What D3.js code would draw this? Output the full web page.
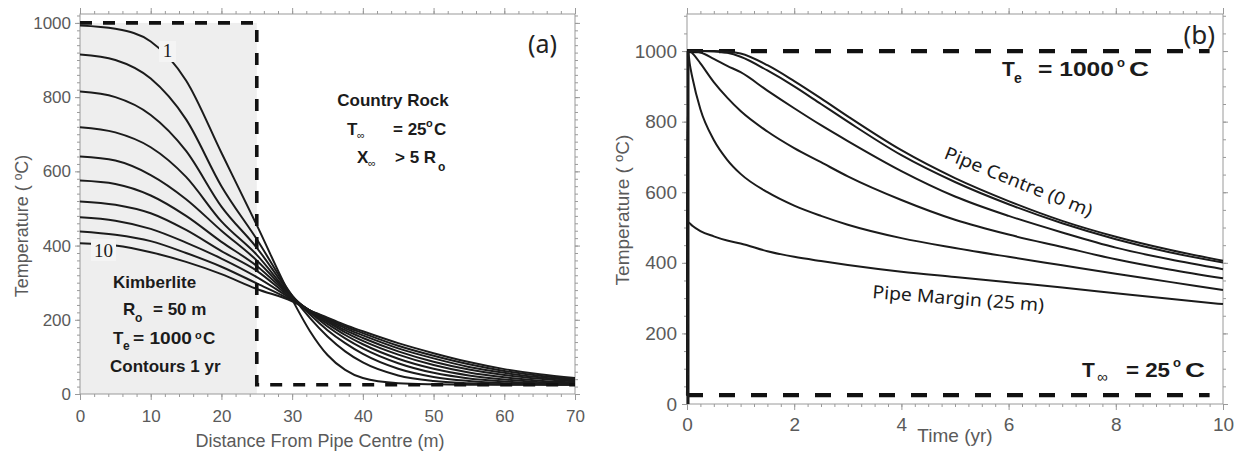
<!DOCTYPE html>
<html><head><meta charset="utf-8">
<script src="https://cdn.jsdelivr.net/npm/d3@7"></script>
<style>body{margin:0;background:#fff} svg{display:block}</style>
</head><body><svg id="c" width="1242" height="453"></svg>
<script>
// ---------- DATA ----------
// Panel (a): temperature profiles vs distance from pipe centre, contours every 1 yr
const distance = [0,5,10,15,20,25,30,32.5,35,37.5,40,45,50,55,60,65,70];
const contourYears = [1,2,3,4,5,6,7,8,9,10];
const contour1  = [993,984,950,845,650,455,255,170,105,65,43,29,26,25,25,25,25];
const contour2  = [915,900,850,740,560,417,265,205,155,115,85,50,35,29,26,25.5,25];
const contour3  = [815,800,752,655,505,394,265,215,172,137,108,68,46,35,29,27,26];
const contour4  = [719,705,665,585,465,375,263,220,182,150,123,83,57,42,34,29,27];
const contour5  = [640,629,590,525,440,360,262,222,189,159,134,95,68,50,39,32,29];
const contour6  = [575,566,535,480,410,345,260,224,194,166,143,106,78,58,45,36,31];
const contour7  = [519,510,487,442,385,332,257,225,198,172,151,115,87,66,51,41,34];
const contour8  = [476,467,445,408,365,315,255,225,201,177,158,123,96,73,57,45,37];
const contour9  = [438,429,412,380,343,298,252,225,204,182,164,130,103,80,62,49,40];
const contour10 = [406,400,382,356,323,283,250,225,206,186,169,137,110,86,67,53,43];
const contours = [contour1,contour2,contour3,contour4,contour5,contour6,contour7,contour8,contour9,contour10];
const emplacementA = [[0,1000],[25,1000],[25,25],[70,25]]; // T_e inside pipe, T_inf outside

// Panel (b): temperature vs time at several distances from the pipe centre
const timeYr   = [0,0.02,0.05,0.1,0.25,0.5,0.75,1,1.5,2,2.5,3,4,5,6,7,8,9,10];
const centre0m = [25,1000,1000,1000,1000,1000,999,993,960,915,866,815,719,640,575,519,474,437,406];
const dist5m   = [25,1000,1000,1000,1000,999,995,984,945,900,850,800,705,629,566,512,467,430,401];
const dist10m  = [25,1000,1000,1000,996,978,958,940,888,838,790,745,660,588,533,486,443,410,382];
const dist15m  = [25,1000,1000,994,965,912,868,830,772,725,685,645,578,522,480,445,410,381,356];
const dist20m  = [25,1000,965,925,835,748,692,652,600,562,533,508,470,442,417,393,369,346,323];
const margin25m= [25,515,512,505,490,475,463,455,433,417,405,394,375,360,345,330,314,298,283];
const seriesB = [centre0m,dist5m,dist10m,dist15m,dist20m,margin25m];
const emplacementT = 1000, countryT = 25;

// tick labels
const ticksAx = [0,10,20,30,40,50,60,70];
const ticksAy = [0,200,400,600,800,1000];
const ticksBx = [0,2,4,6,8,10];
const ticksBy = [0,200,400,600,800,1000];

// ---------- DRAW ----------
const svg = d3.select("#c");
const ink = "#1b1b1b", axisCol = "#9a9a9a", tickCol = "#5a5a5a";
const sans = "'Liberation Sans', Arial, sans-serif";
const myriad = "'Noto Sans', 'Open Sans', sans-serif";

function drawAxes(g, x, y, o) {
  const [x0,x1] = x.range(), [y0,y1] = y.range();
  const style = sel => { sel.select(".domain").remove(); sel.selectAll("line").attr("stroke", axisCol); };
  const lab = sel => sel.selectAll("text").attr("fill", tickCol).style("font-family", sans).style("font-size", o.fs + "px");
  g.append("g").attr("transform", `translate(0,${y0})`)
    .call(d3.axisBottom(x).tickValues(o.xMin).tickSize(3).tickFormat("")).call(style);
  g.append("g").attr("transform", `translate(0,${y0})`)
    .call(d3.axisBottom(x).tickValues(o.xMaj).tickSize(6).tickPadding(o.xPad).tickFormat(d3.format("d"))).call(style).call(lab);
  g.append("g").attr("transform", `translate(0,${y1})`)
    .call(d3.axisTop(x).tickValues(o.xMin).tickSize(3).tickFormat("")).call(style);
  g.append("g").attr("transform", `translate(0,${y1})`)
    .call(d3.axisTop(x).tickValues(o.xMaj).tickSize(6).tickFormat("")).call(style);
  g.append("g").attr("transform", `translate(${x0},0)`)
    .call(d3.axisLeft(y).tickValues(o.yMin).tickSize(3).tickFormat("")).call(style);
  g.append("g").attr("transform", `translate(${x0},0)`)
    .call(d3.axisLeft(y).tickValues(o.yMaj).tickSize(5).tickPadding(o.yPad).tickFormat(d3.format("d"))).call(style).call(lab);
  g.append("g").attr("transform", `translate(${x1},0)`)
    .call(d3.axisRight(y).tickValues(o.yMin).tickSize(3).tickFormat("")).call(style);
  g.append("g").attr("transform", `translate(${x1},0)`)
    .call(d3.axisRight(y).tickValues(o.yMaj).tickSize(5).tickFormat("")).call(style);
  g.append("rect").attr("x", x0).attr("y", y1).attr("width", x1 - x0).attr("height", y0 - y1)
    .attr("fill", "none").attr("stroke", axisCol).attr("stroke-width", 1);
}

function txt(g, x, y, s, o = {}) {
  const t = g.append("text").attr("x", x).attr("y", y).text(s)
    .style("font-family", o.ff || sans).style("font-size", (o.fs || 17) + "px")
    .style("font-weight", o.fw || "bold").attr("fill", o.fill || ink)
    .attr("text-anchor", o.anchor || "start");
  if (o.len) t.attr("textLength", o.len).attr("lengthAdjust", "spacingAndGlyphs");
  if (o.rot !== undefined) t.attr("transform", `rotate(${o.rot},${x},${y})`);
  return t;
}

// ===== Panel (a) =====
const xA = d3.scaleLinear().domain([0,70]).range([80,575]);
const yA = d3.scaleLinear().domain([0,1024]).range([394,14]);
const gA = svg.append("g");
gA.append("defs").append("clipPath").attr("id","clipA").append("rect")
  .attr("x",80).attr("y",14).attr("width",495).attr("height",380);
gA.append("rect").attr("x", xA(0)).attr("y", yA(1000)).attr("width", xA(25) - xA(0))
  .attr("height", yA(0) - yA(1000)).attr("fill", "#eeeeee");
drawAxes(gA, xA, yA, {xMaj: ticksAx, xMin: d3.range(0,71,2), yMaj: ticksAy, yMin: d3.range(0,1025,20), fs: 17, xPad: 10, yPad: 4});

const lineA = d3.line().x((d,i) => xA(distance[i])).y(d => yA(d)).curve(d3.curveMonotoneX);
const cA = gA.append("g").attr("clip-path","url(#clipA)");
contours.forEach(c => cA.append("path").attr("d", lineA(c)).attr("fill","none").attr("stroke", ink).attr("stroke-width", 2));
cA.append("path").attr("d", d3.line().x(d => xA(d[0])).y(d => yA(d[1]))(emplacementA))
  .attr("fill","none").attr("stroke","#111").attr("stroke-width",3.6).attr("stroke-dasharray","12,11");

gA.append("rect").attr("x",159).attr("y",41).attr("width",17).attr("height",21).attr("fill","#f4f4f4");
txt(gA, 167.5, 57, String(contourYears[0]), {ff: "'Liberation Serif', serif", fw: "normal", fs: 19, anchor: "middle"});
gA.append("rect").attr("x",91).attr("y",239).attr("width",25).attr("height",22).attr("fill","#f4f4f4");
txt(gA, 103.5, 257, String(contourYears[9]), {ff: "'Liberation Serif', serif", fw: "normal", fs: 19, anchor: "middle"});

txt(gA, 557, 53, "(a)", {ff: myriad, fw: "normal", fs: 25, anchor: "end", fill: "#222"});
txt(gA, 393, 106, "Country Rock", {anchor: "middle"});
txt(gA, 347, 135, "T"); txt(gA, 357, 139, "∞", {fs: 11, fw: "normal"});
txt(gA, 393, 135, "= 25"); txt(gA, 426, 127, "o", {fs: 11}); txt(gA, 434, 135, "C");
txt(gA, 357, 163, "X"); txt(gA, 368, 167, "∞", {fs: 11, fw: "normal"});
txt(gA, 395, 163, "> 5 R"); txt(gA, 438, 171, "o", {fs: 12});

txt(gA, 113, 288, "Kimberlite");
txt(gA, 123, 315, "R"); txt(gA, 135, 322, "o", {fs: 12}); txt(gA, 153, 315, "= 50 m");
txt(gA, 113, 344, "T"); txt(gA, 123, 350, "e", {fs: 12}); txt(gA, 133, 344, "= 1000", {len: 59});
txt(gA, 195, 339, "o", {fs: 11}); txt(gA, 203, 344, "C");
txt(gA, 110, 372, "Contours 1 yr");

txt(gA, 320, 447, "Distance From Pipe Centre (m)", {fw: "normal", fs: 18, anchor: "middle", fill: tickCol});
const ytA = txt(gA, 0, 0, "", {fw: "normal", fs: 18, anchor: "middle", fill: tickCol}).attr("transform","translate(28,226) rotate(-90)");
ytA.append("tspan").text("Temperature ( ");
ytA.append("tspan").text("o").attr("dy", -6).style("font-size","12px");
ytA.append("tspan").text("C)").attr("dy", 6);

// ===== Panel (b) =====
const xB = d3.scaleLinear().domain([0,10]).range([687,1223]);
const yB = d3.scaleLinear().domain([0,1105]).range([404,14]);
const gB = svg.append("g");
drawAxes(gB, xB, yB, {xMaj: ticksBx, xMin: d3.range(0,10.01,0.25), yMaj: ticksBy, yMin: d3.range(0,1101,50), fs: 19, xPad: 8, yPad: 5});

const cB = gB.append("g");
const lineB = d3.line().x((d,i) => xB(timeYr[i])).y(d => yB(d)).curve(d3.curveMonotoneX);
[emplacementT, countryT].forEach(v =>
  cB.append("line").attr("x1", xB(0)).attr("x2", xB(9.75)).attr("y1", yB(v)).attr("y2", yB(v))
    .attr("stroke","#111").attr("stroke-width",4.2).attr("stroke-dasharray","16,16"));
// instantaneous emplacement at t = 0 (vertical rise from T_inf to T_e)
cB.append("line").attr("x1", xB(0) + 1).attr("x2", xB(0) + 1).attr("y1", yB(0)).attr("y2", yB(emplacementT))
  .attr("stroke", ink).attr("stroke-width", 3);
seriesB.forEach(s => cB.append("path").attr("d", lineB(s)).attr("fill","none").attr("stroke", ink).attr("stroke-width", 2));

txt(gB, 1215, 44, "(b)", {ff: myriad, fw: "normal", fs: 26, anchor: "end", fill: "#222"});
txt(gB, 1002, 76, "T", {fs: 21}); txt(gB, 1014, 83, "e", {fs: 14});
txt(gB, 1038, 76, "= 1000", {fs: 21, len: 76}); txt(gB, 1117, 67, "o", {fs: 13}); txt(gB, 1129, 76, "C", {fs: 21, len: 20});
txt(gB, 1082, 377, "T", {fs: 21}); txt(gB, 1097, 382, "∞", {fs: 15, fw: "normal"});
txt(gB, 1126, 377, "= 25", {fs: 21, len: 44}); txt(gB, 1173, 367, "o", {fs: 13}); txt(gB, 1185, 377, "C", {fs: 21, len: 20});

txt(gB, 943, 158, "Pipe Centre (0 m)", {ff: myriad, fw: "normal", fs: 18, rot: 22, len: 158});
txt(gB, 872, 298, "Pipe Margin (25 m)", {ff: myriad, fw: "normal", fs: 18, rot: 4.5, len: 172});

txt(gB, 955, 442, "Time (yr)", {fw: "normal", fs: 19, anchor: "middle", fill: tickCol});
const ytB = txt(gB, 0, 0, "", {fw: "normal", fs: 19, anchor: "middle", fill: tickCol}).attr("transform","translate(629,210) rotate(-90)");
ytB.append("tspan").text("Temperature ( ");
ytB.append("tspan").text("o").attr("dy", -6).style("font-size","13px");
ytB.append("tspan").text("C)").attr("dy", 6);
</script>
</body></html>
